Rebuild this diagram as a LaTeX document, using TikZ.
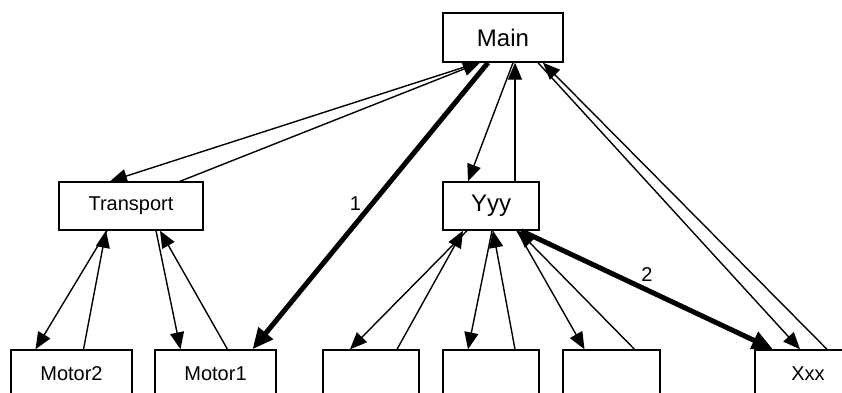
\documentclass[tikz,border=0pt]{standalone}
\usepackage{fontspec}
\setmainfont{Liberation Sans}
\usetikzlibrary{arrows.meta}

\begin{document}
\begin{tikzpicture}[
    x=1pt, y=-1pt,
    box/.style={rectangle, draw, line width=1.4pt, minimum height=48pt,
                inner sep=0pt, font=\fontsize{20}{24}\selectfont},
    bigbox/.style={box, font=\fontsize{24}{28}\selectfont},
    call/.style={-{Triangle[length=17pt, width=14pt]}, line width=1.4pt},
    trace/.style={-{Triangle[length=21pt, width=18pt]}, line width=5pt},
    lbl/.style={font=\fontsize{20}{24}\selectfont, inner sep=0pt}
]
\useasboundingbox (0,0) rectangle (842,392);
\clip (0,0) rectangle (842,392);

% Top level
\node[bigbox, minimum width=120pt, minimum height=49pt] (main) at (503,37.5) {Main};

% Middle level
\node[box, minimum width=144pt] (transport) at (131,206) {Transport};
\node[bigbox, minimum width=96pt] (yyy) at (491,206) {Yyy};

% Bottom level
\node[box, minimum width=121pt] (motor2) at (71.5,374) {Motor2};
\node[box, minimum width=121pt] (motor1) at (215.5,374) {Motor1};
\node[box, minimum width=96pt] (blanka) at (371,374) {};
\node[box, minimum width=96pt] (blankb) at (491,374) {};
\node[box, minimum width=97pt] (blankc) at (611.5,374) {};
\node[box, minimum width=106pt] (xxx) at (808,374) {Xxx};

% Main <-> middle level
\draw[call] ([xshift=-25pt]main.south) -- ([xshift=-21pt]transport.north);
\draw[call] ([xshift=49pt]transport.north) -- ([xshift=-23pt]main.south);
\draw[call] ([xshift=10pt]main.south) -- ([xshift=-23pt]yyy.north);
\draw[call] ([xshift=24pt]yyy.north) -- ([xshift=12pt]main.south);
\draw[call] ([xshift=35pt]main.south) -- ([xshift=-8pt]xxx.north);
\draw[call] ([xshift=19pt]xxx.north) -- ([xshift=40pt]main.south);

% Transport <-> motors
\draw[call] ([xshift=-24pt]transport.south) -- ([xshift=-36pt]motor2.north);
\draw[call] ([xshift=12pt]motor2.north) -- ([xshift=-25pt]transport.south);
\draw[call] ([xshift=25pt]transport.south) -- ([xshift=-35pt]motor1.north);
\draw[call] ([xshift=12pt]motor1.north) -- ([xshift=29pt]transport.south);

% Yyy <-> bottom boxes
\draw[call] ([xshift=-24pt]yyy.south) -- ([xshift=-21pt]blanka.north);
\draw[call] ([xshift=26pt]blanka.north) -- ([xshift=-28pt]yyy.south);
\draw[call] ([xshift=1pt]yyy.south) -- ([xshift=-23pt]blankb.north);
\draw[call] ([xshift=24pt]blankb.north) -- ([xshift=2pt]yyy.south);
\draw[call] ([xshift=26pt]yyy.south) -- ([xshift=-27pt]blankc.north);
\draw[call] ([xshift=23pt]blankc.north) -- ([xshift=27pt]yyy.south);

% Traced path
\draw[trace] ([xshift=-15pt]main.south) -- node[lbl, pos=0.49, left=9pt] {1} ([xshift=37pt]motor1.north);
\draw[trace] ([xshift=30pt]yyy.south) -- node[lbl, pos=0.5, above=6pt] {2} ([xshift=-35pt]xxx.north);

\end{tikzpicture}
\end{document}
